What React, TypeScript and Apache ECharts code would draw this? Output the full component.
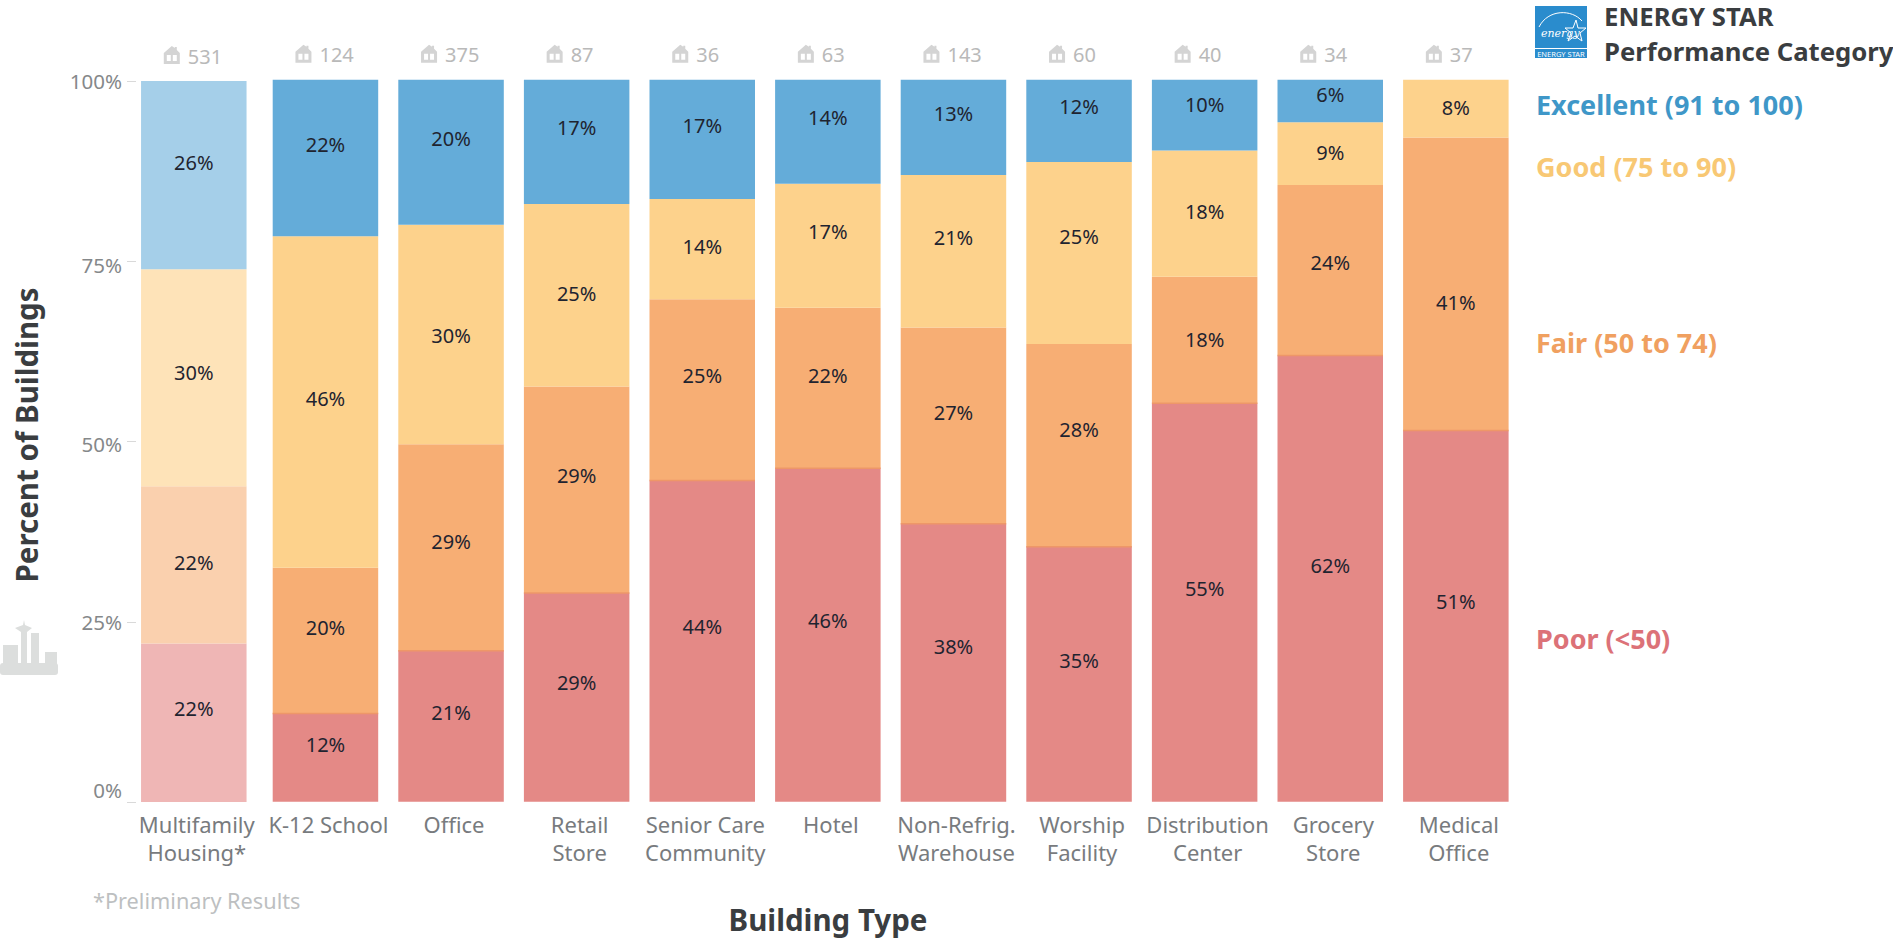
import React, { useEffect, useRef } from "react";
import * as echarts from "echarts";

const FONT = '"Noto Sans"';

const categories = [
  "Multifamily\nHousing*",
  "K-12 School",
  "Office",
  "Retail\nStore",
  "Senior Care\nCommunity",
  "Hotel",
  "Non-Refrig.\nWarehouse",
  "Worship\nFacility",
  "Distribution\nCenter",
  "Grocery\nStore",
  "Medical\nOffice",
];
const buildingCounts = [531, 124, 375, 87, 36, 63, 143, 60, 40, 34, 37];

// Share of buildings per performance category, percent.
const poor = [22.0, 12.2, 20.9, 28.9, 44.49, 46.2, 38.49, 35.3, 55.2, 61.8, 51.4];
const fair = [21.8, 20.2, 28.6, 28.6, 25.1, 22.2, 27.2, 28.1, 17.5, 23.6, 40.6];
const good = [30.1, 45.9, 30.4, 25.3, 13.9, 17.2, 21.1, 25.2, 17.5, 8.7, 8.0];
const excellent = [26.1, 21.7, 20.1, 17.2, 16.51, 14.4, 13.2, 11.5, 9.8, 5.9, 0];

// Vertical nudge of each value label away from its segment's middle, px.
const poorNudge = [-14, -13, -14, -15, -15, -14, -16, -14, -14, -13, -15];
const fairNudge = [-2, -13, -6, -14, -14, -12, -13, -16, 0, -8, 18];
const goodNudge = [-5, -4, 1, -2, -3, -14, -14, -16, -2, -1, -1];
const excellentNudge = [-13, -14, -14, -14, -14, -14, -14, -14, -11, -6, 0];

const yTicks = [0, 25, 50, 75, 100];

const BAR_WIDTH = 105.5;

const bands = [
  { name: "Poor (<50)", values: poor, nudge: poorNudge, color: "#e48986", soft: "#efb6b5", text: "#dc7278", y: 638 },
  { name: "Fair (50 to 74)", values: fair, nudge: fairNudge, color: "#f7ae74", soft: "#fad0ae", text: "#f0a060", y: 342 },
  { name: "Good (75 to 90)", values: good, nudge: goodNudge, color: "#fdd28c", soft: "#fee3b8", text: "#f8c874", y: 166 },
  { name: "Excellent (91 to 100)", values: excellent, nudge: excellentNudge, color: "#64acd9", soft: "#a5cfe9", text: "#3f97c8", y: 104 },
];

const HOUSE =
  "M8 0 L11 2 L11 1 L13 1 L13 4 L16 7 L16 18 L0 18 L0 7 Z M3 9 L3 15 L7 15 L7 9 Z M9 9 L9 15 L13 15 L13 9 Z";

function countMarker(params: any, api: any) {
  const [cx, top] = api.coord([api.value(0), 100]);
  const label = String(api.value(2));
  return {
    type: "group",
    children: [
      {
        type: "path",
        shape: { pathData: HOUSE, x: cx - 30, y: top - 35, width: 16, height: 18 },
        style: { fill: "#d4d4d4" },
      },
      {
        type: "text",
        x: cx - 6,
        y: top - 25,
        style: {
          text: label,
          font: `20px ${FONT}`,
          fill: "#b9b9b9",
          verticalAlign: "middle",
          align: "left",
        },
      },
    ],
  };
}

// The darker seam along the top of each solid "Poor" segment.
function poorSeam(params: any, api: any) {
  const [cx, y] = api.coord([api.value(0), api.value(1)]);
  return {
    type: "line",
    shape: { x1: cx - BAR_WIDTH / 2, y1: y, x2: cx + BAR_WIDTH / 2, y2: y },
    style: { stroke: "#ee9768", lineWidth: 1.5 },
  };
}

function buildSeries(indices: number[], axisIndex: number, useSoft: boolean): any[] {
  const stacked = bands.map((b) => ({
    type: "bar",
    name: b.name,
    stack: `share${axisIndex}`,
    xAxisIndex: axisIndex,
    yAxisIndex: axisIndex,
    barWidth: BAR_WIDTH,
    data: indices.map((i) => ({
      value: b.values[i],
      label: { offset: [0, b.nudge[i]] },
    })),
    itemStyle: { color: useSoft ? b.soft : b.color },
    label: {
      show: true,
      position: "inside",
      fontFamily: FONT,
      fontSize: 20,
      color: "#1f2430",
      formatter: (p: any) => (p.value > 0 ? `${Math.round(p.value)}%` : ""),
    },
  }));
  const counts = {
    type: "custom",
    xAxisIndex: axisIndex,
    yAxisIndex: axisIndex,
    clip: false,
    silent: true,
    data: indices.map((i, k) => [k, 100, buildingCounts[i]]),
    encode: { x: 0, y: 1 },
    renderItem: countMarker,
  };
  const seam = {
    type: "custom",
    xAxisIndex: axisIndex,
    yAxisIndex: axisIndex,
    silent: true,
    z: 3,
    data: indices.map((i, k) => [k, poor[i]]),
    encode: { x: 0, y: 1 },
    renderItem: poorSeam,
  };
  return useSoft ? [...stacked, counts] : [...stacked, counts, seam];
}

const restIndices = categories.map((_, i) => i).slice(1);

function xAxisFor(labels: string[], gridIndex: number) {
  return {
    type: "category",
    gridIndex,
    data: labels,
    axisLine: { show: false },
    axisTick: { show: false },
    axisLabel: {
      interval: 0,
      margin: 8,
      fontFamily: FONT,
      fontSize: 22,
      lineHeight: 28,
      color: "#787b7e",
      verticalAlign: "top",
      padding: [0, 0, 0, 6],
    },
  };
}

const legendTexts = bands.map((b) => ({
  type: "text",
  x: 1536,
  y: b.y,
  style: {
    text: b.name,
    font: `bold 27px ${FONT}`,
    fill: b.text,
    verticalAlign: "middle",
  },
}));

const SKY = "#dcdedd";
const skyline = [
  { type: "rect", shape: { x: 0, y: 663, width: 58, height: 12, r: 3 }, style: { fill: SKY } },
  { type: "rect", shape: { x: 3, y: 645, width: 15, height: 20 }, style: { fill: SKY } },
  { type: "rect", shape: { x: 31, y: 633, width: 8, height: 32 }, style: { fill: SKY } },
  { type: "rect", shape: { x: 45, y: 652, width: 12, height: 13 }, style: { fill: SKY } },
  {
    type: "polygon",
    shape: { points: [[24, 620], [25, 625], [32, 628], [27, 632], [27, 666], [21, 666], [21, 632], [15, 628], [23, 625]] },
    style: { fill: SKY },
  },
];

const logo = [
  { type: "rect", shape: { x: 1535, y: 6, width: 52, height: 52 }, style: { fill: "#2a8ccd" } },
  { type: "line", shape: { x1: 1535, y1: 48.5, x2: 1587, y2: 48.5 }, style: { stroke: "#ffffff", lineWidth: 1 } },
  {
    type: "bezierCurve",
    shape: { x1: 1539, y1: 27, cpx1: 1548, cpy1: 9, x2: 1582, y2: 21, cpx2: 1572, cpy2: 9 },
    style: { stroke: "#ffffff", lineWidth: 1, fill: "none" },
  },
  {
    type: "polygon",
    shape: {
      points: [[1576, 20], [1578, 28], [1586, 28], [1580, 33], [1582, 41], [1575, 36], [1568, 41], [1571, 33], [1565, 28], [1573, 28]],
    },
    style: { stroke: "#ffffff", lineWidth: 1, fill: "none" },
  },
  {
    type: "text",
    x: 1541,
    y: 33,
    style: { text: "energy", font: `italic 11px "DejaVu Serif"`, fill: "#ffffff", verticalAlign: "middle" },
  },
  {
    type: "text",
    x: 1561,
    y: 53.5,
    style: { text: "ENERGY STAR", font: `7.5px ${FONT}`, fill: "#ffffff", align: "center", verticalAlign: "middle" },
  },
];

const titles = [
  {
    type: "text",
    x: 26,
    y: 435,
    rotation: Math.PI / 2,
    style: { text: "Percent of Buildings", font: `bold 29.5px ${FONT}`, fill: "#3a3d40", align: "center", verticalAlign: "middle" },
  },
  {
    type: "text",
    x: 828,
    y: 919,
    style: { text: "Building Type", font: `bold 29.5px ${FONT}`, fill: "#3a3d40", align: "center", verticalAlign: "middle" },
  },
  {
    type: "text",
    x: 93,
    y: 900,
    style: { text: "*Preliminary Results", font: `21.7px ${FONT}`, fill: "#bdbfc1", verticalAlign: "middle" },
  },
  {
    type: "text",
    x: 1604,
    y: 16,
    style: { text: "ENERGY STAR", font: `bold 25.7px ${FONT}`, fill: "#3a3d40", verticalAlign: "middle" },
  },
  {
    type: "text",
    x: 1604,
    y: 51,
    style: { text: "Performance Category", font: `bold 25.7px ${FONT}`, fill: "#3a3d40", verticalAlign: "middle" },
  },
];

export default function App() {
  const ref = useRef<HTMLDivElement>(null);

  useEffect(() => {
    document.body.style.margin = "0";
    const chart = echarts.init(ref.current!, undefined, { renderer: "svg" });
    const tickStyle = { fontFamily: FONT, fontSize: 20.5, color: "#85888a" };
    chart.setOption({
      animation: false,
      backgroundColor: "#ffffff",
      grid: [
        { left: 136, top: 81, width: 115.6, height: 721 },
        { left: 262.65, top: 79.7, width: 1256, height: 722 },
      ],
      xAxis: [
        xAxisFor([categories[0]], 0),
        xAxisFor(restIndices.map((i) => categories[i]), 1),
      ],
      yAxis: [
        {
          type: "value",
          gridIndex: 0,
          min: yTicks[0],
          max: yTicks[yTicks.length - 1],
          interval: yTicks[1] - yTicks[0],
          splitLine: { show: false },
          axisLine: { show: false },
          axisTick: { show: true, length: 9, lineStyle: { color: "#d9d9d9", width: 1 } },
          axisLabel: {
            margin: 14,
            ...tickStyle,
            formatter: (v: number) =>
              v === 0 ? "{zero|0%}" : v === 75 ? "{low|75%}" : v === 50 ? "{mid|50%}" : `${v}%`,
            rich: {
              zero: { padding: [0, 0, 24, 0], ...tickStyle },
              low: { padding: [7, 0, 0, 0], ...tickStyle },
              mid: { padding: [5, 0, 0, 0], ...tickStyle },
            },
          },
        },
        { type: "value", gridIndex: 1, min: 0, max: 100, show: false },
      ],
      series: [...buildSeries([0], 0, true), ...buildSeries(restIndices, 1, false)],
      graphic: [...titles, ...legendTexts, ...skyline, ...logo],
    });
    return () => chart.dispose();
  }, []);

  return <div ref={ref} style={{ width: 1893, height: 940 }} />;
}
